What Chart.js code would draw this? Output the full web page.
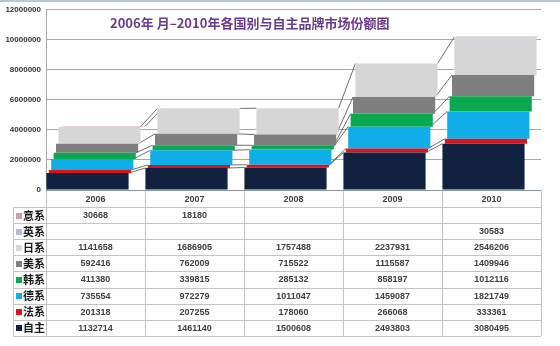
<!DOCTYPE html>
<html><head><meta charset="utf-8">
<script src="https://cdn.jsdelivr.net/npm/chart.js@4/dist/chart.umd.min.js"></script>
<style>html,body{margin:0;padding:0;background:#fff}#wrap{position:relative;width:560px;height:346px}</style>
</head><body><div id="wrap"><canvas id="c" width="560" height="346"></canvas></div>
<script>
const years = ['2006','2007','2008','2009','2010'];
const seriesNames = ['自主','法系','德系','韩系','美系','日系','英系','意系'];
const ziZhu = [1132714,1461140,1500608,2493803,3080495];
const faXi = [201318,207255,178060,266068,333361];
const deXi = [735554,972279,1011047,1459087,1821749];
const hanXi = [411380,339815,285132,858197,1012116];
const meiXi = [592416,762009,715522,1115587,1409946];
const riXi = [1141658,1686905,1757488,2237931,2546206];
const yingXi = [null,null,null,null,30583];
const yiXi = [30668,18180,null,null,null];
const yMax = 12000000;
const yStep = 2000000;
const titleText = '2006年 月–2010年各国别与自主品牌市场份额图';

const seriesValues = [ziZhu, faXi, deXi, hanXi, meiXi, riXi, yingXi, yiXi];
const seriesColors = ['#10223f','#d7141f','#10aee8','#0aa84f','#7f7f7f','#d6d6d6','#b4bcd6','#d4a0a8'];

const datasets = seriesNames.map((n,i)=>({
  label: n, data: seriesValues[i], backgroundColor: seriesColors[i],
  borderWidth: 0, barPercentage: 0.83, categoryPercentage: 1
}));

function shiftFor(i){ return -8 + 2.4*i; }

const deco = {
  id: 'deco',
  beforeDatasetsDraw(chart){
    const ctx = chart.ctx;
    ctx.save();
    ctx.strokeStyle = '#6e6e6e';
    ctx.lineWidth = 1;
    chart.data.datasets.forEach((ds,i)=>{
      const meta = chart.getDatasetMeta(i);
      const s = shiftFor(i);
      for(let j=0;j<meta.data.length-1;j++){
        if(ds.data[j]==null || ds.data[j+1]==null) continue;
        const a = meta.data[j], b = meta.data[j+1];
        ctx.beginPath();
        ctx.moveTo(a.x + a.width/2 + s, a.y);
        ctx.lineTo(b.x - b.width/2 + s, b.y);
        ctx.stroke();
      }
    });
    ctx.restore();
  },
  beforeDatasetDraw(chart, args){
    chart.ctx.save();
    chart.ctx.translate(shiftFor(args.index), 0);
  },
  afterDatasetDraw(chart){
    chart.ctx.restore();
  },
  afterDraw(chart){
    const ctx = chart.ctx;
    const ca = chart.chartArea;
    const xs = chart.scales.x;
    ctx.save();
    ctx.strokeStyle = '#b9c6d6';
    ctx.lineWidth = 2;
    ctx.beginPath(); ctx.moveTo(0,1); ctx.lineTo(560,1); ctx.stroke();
    ctx.fillStyle = '#6a3a92';
    ctx.font = 'bold 13px "Noto Sans CJK SC", sans-serif';
    ctx.textAlign = 'left'; ctx.textBaseline = 'middle';
    ctx.fillText(titleText, 110, 23);
    const top = ca.bottom;
    const headH = 17;
    const rowH = 16.1;
    const nRows = seriesNames.length;
    const labelLeft = 13;
    const catW = (ca.right - ca.left) / years.length;
    const bottom = top + headH + rowH*nRows;
    ctx.strokeStyle = '#c4c4c4';
    ctx.lineWidth = 1;
    for(let j=0;j<=years.length;j++){
      const x = Math.round(ca.left + catW*j) + 0.5;
      ctx.beginPath(); ctx.moveTo(x, top); ctx.lineTo(x, bottom); ctx.stroke();
    }
    ctx.beginPath(); ctx.moveTo(labelLeft+0.5, top+headH); ctx.lineTo(labelLeft+0.5, bottom); ctx.stroke();
    for(let r=0;r<=nRows;r++){
      const y = Math.round(top + headH + rowH*r) + 0.5;
      ctx.beginPath(); ctx.moveTo(labelLeft, y); ctx.lineTo(ca.right, y); ctx.stroke();
    }
    ctx.strokeStyle = '#8a96a8';
    ctx.beginPath(); ctx.moveTo(ca.left, top+0.5); ctx.lineTo(ca.right, top+0.5); ctx.stroke();
    ctx.fillStyle = '#404040';
    ctx.textAlign = 'center'; ctx.textBaseline = 'middle';
    ctx.font = 'bold 9px "Liberation Sans", Arial, sans-serif';
    years.forEach((yr,j)=>{
      ctx.fillText(yr, xs.getPixelForValue(j), top + headH/2 + 1);
    });
    for(let r=0;r<nRows;r++){
      const si = nRows-1-r;
      const yc = top + headH + rowH*r + rowH/2 + 0.5;
      ctx.fillStyle = seriesColors[si];
      ctx.fillRect(16, Math.round(yc-3), 6, 6);
      ctx.fillStyle = '#1a1a1a';
      ctx.textAlign = 'left';
      ctx.font = 'bold 11px "Noto Sans CJK SC", sans-serif';
      ctx.fillText(seriesNames[si], 23, yc);
      ctx.textAlign = 'center';
      ctx.fillStyle = '#404040';
      ctx.font = 'bold 9px "Liberation Sans", Arial, sans-serif';
      seriesValues[si].forEach((v,j)=>{
        if(v==null) return;
        ctx.fillText(String(v), xs.getPixelForValue(j), yc);
      });
    }
    ctx.restore();
  }
};

new Chart(document.getElementById('c'), {
  type: 'bar',
  data: { labels: years, datasets },
  options: {
    responsive: false, animation: false, devicePixelRatio: 1,
    layout: { padding: { top: 6, right: 19, bottom: 156, left: 0 } },
    plugins: { legend: { display: false }, title: { display: false }, tooltip: { enabled: false } },
    scales: {
      x: { stacked: true, display: false },
      y: {
        stacked: true, min: 0, max: yMax,
        ticks: { stepSize: yStep, color: '#333333', padding: 5,
          callback: (v) => String(v),
          font: { family: '"Liberation Sans", Arial, sans-serif', size: 8, weight: 'bold' } },
        grid: { color: '#a8a8a8', drawTicks: false },
        border: { color: '#a8a8a8' },
        afterFit(scale){ scale.width = 46; }
      }
    }
  },
  plugins: [deco]
});
</script>
</body></html>
